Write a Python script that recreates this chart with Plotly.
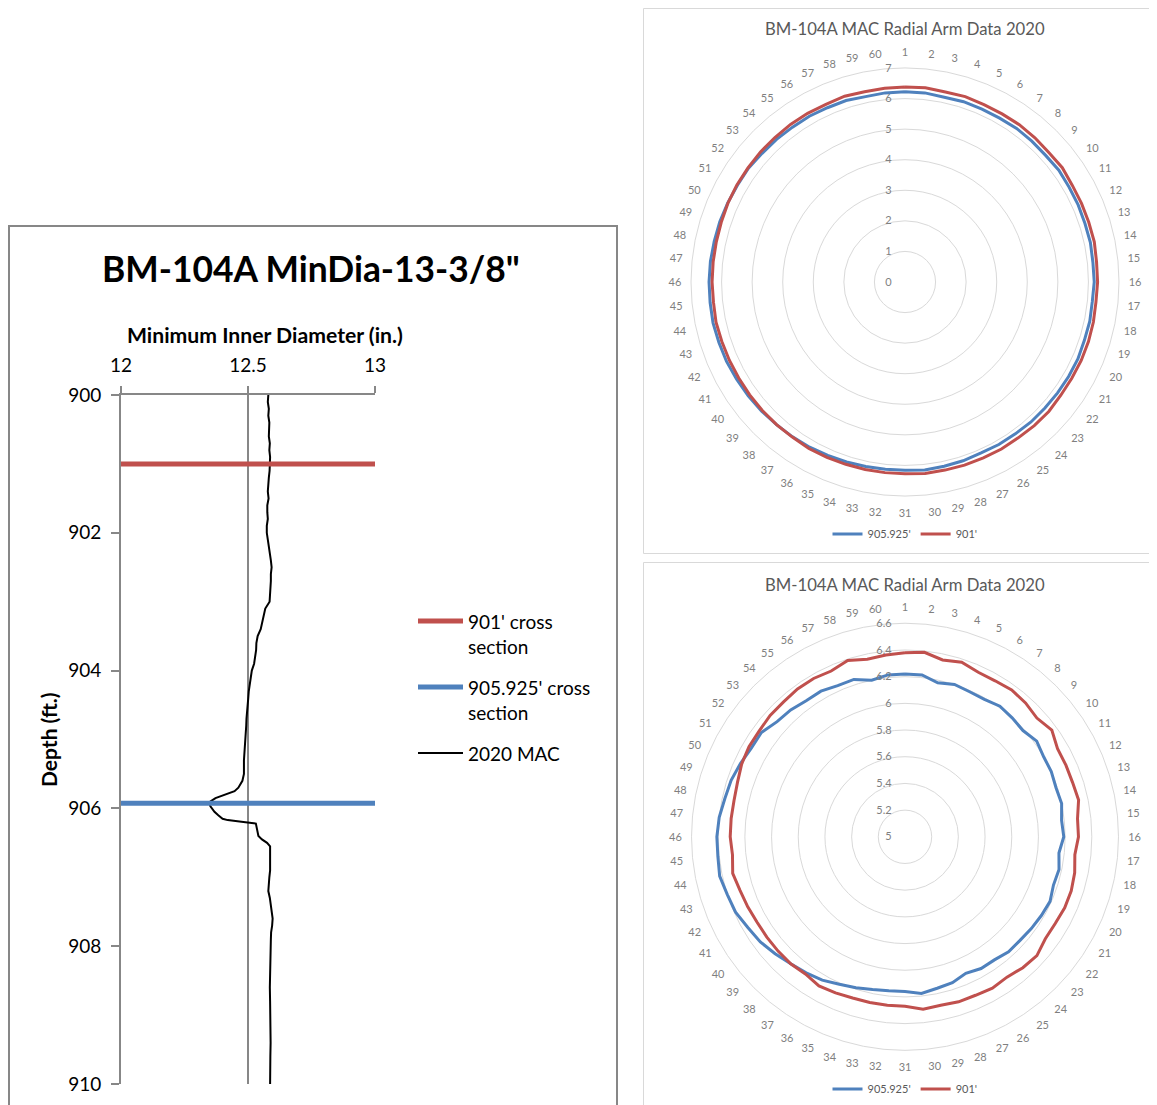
import plotly.graph_objects as go

W, H = 1157, 1105
FONT = "Lato"
OFF = 8  # page body margin: the figure starts 8px in from the window edge

# ---------------- data: left chart (2020 MAC minimum ID log) ----------------
depth_ft = [900.0, 900.1, 900.2, 900.3, 900.4, 900.5, 900.6, 900.7, 900.8, 900.9,
            901.0, 901.1, 901.2, 901.3, 901.4, 901.5, 901.6, 901.7, 901.8, 901.9,
            902.0, 902.1, 902.2, 902.3, 902.4, 902.5, 902.6, 902.7, 902.8, 902.9,
            903.0, 903.1, 903.2, 903.3, 903.4, 903.5, 903.6, 903.7, 903.8, 903.9,
            904.0, 904.1, 904.2, 904.3, 904.4, 904.5, 904.6, 904.7, 904.8, 904.9,
            905.0, 905.1, 905.2, 905.3, 905.4, 905.5, 905.6, 905.65, 905.7, 905.75,
            905.8, 905.85, 905.9, 905.93, 905.97, 906.0, 906.05, 906.1, 906.15, 906.17,
            906.18, 906.2, 906.22, 906.3, 906.4, 906.45, 906.5, 906.55, 906.7, 906.8,
            906.9, 907.0, 907.1, 907.2, 907.3, 907.4, 907.5, 907.6, 907.7, 907.8,
            907.9, 908.0, 908.2, 908.4, 908.5, 908.6, 908.8, 909.0, 909.2, 909.4,
            909.6, 909.8, 910.0]
min_id_in = [12.580, 12.578, 12.582, 12.580, 12.584, 12.584, 12.582, 12.586, 12.584, 12.587,
             12.587, 12.585, 12.582, 12.580, 12.578, 12.581, 12.576, 12.576, 12.578, 12.574,
             12.574, 12.578, 12.583, 12.587, 12.590, 12.593, 12.590, 12.590, 12.588, 12.588,
             12.585, 12.568, 12.562, 12.556, 12.550, 12.538, 12.533, 12.532, 12.528, 12.524,
             12.515, 12.510, 12.506, 12.503, 12.501, 12.498, 12.495, 12.494, 12.493, 12.491,
             12.491, 12.488, 12.486, 12.484, 12.484, 12.484, 12.478, 12.470, 12.462, 12.447,
             12.410, 12.372, 12.352, 12.348, 12.352, 12.357, 12.368, 12.383, 12.400, 12.420,
             12.455, 12.490, 12.531, 12.535, 12.541, 12.555, 12.575, 12.587, 12.588, 12.586,
             12.587, 12.584, 12.582, 12.580, 12.586, 12.590, 12.593, 12.597, 12.595, 12.591,
             12.590, 12.589, 12.587, 12.585, 12.584, 12.586, 12.587, 12.588, 12.589, 12.589,
             12.588, 12.587, 12.587]
section_depths = [901.0, 905.925]
section_names = ["901' cross<br>section", "905.925' cross<br>section"]
log_name = "2020 MAC"
x_ticks = [12, 12.5, 13]
x_ticktext = ["12", "12.5", "13"]
y_ticks = [900, 902, 904, 906, 908, 910]

# ---------------- data: radial arm readings (60 arms) ----------------
arm_labels = [str(i) for i in range(1, 61)]
r_905925 = [6.22, 6.22, 6.18, 6.20, 6.19, 6.19, 6.21, 6.20, 6.19, 6.22,
            6.20, 6.20, 6.19, 6.20, 6.18, 6.19, 6.16, 6.18, 6.17, 6.19,
            6.18, 6.17, 6.16, 6.16, 6.14, 6.14, 6.12, 6.15, 6.16, 6.18,
            6.16, 6.16, 6.17, 6.19, 6.21, 6.24, 6.26, 6.28, 6.31, 6.34,
            6.36, 6.39, 6.40, 6.42, 6.41, 6.41, 6.40, 6.38, 6.37, 6.35,
            6.33, 6.33, 6.29, 6.28, 6.26, 6.26, 6.24, 6.24, 6.20, 6.22]
r_901 = [6.38, 6.39, 6.355, 6.375, 6.35, 6.35, 6.36, 6.35, 6.33, 6.36,
         6.32, 6.32, 6.32, 6.33, 6.30, 6.30, 6.28, 6.30, 6.31, 6.31,
         6.30, 6.30, 6.33, 6.32, 6.30, 6.31, 6.30, 6.30, 6.29, 6.30,
         6.27, 6.27, 6.27, 6.27, 6.28, 6.29, 6.27, 6.28, 6.28, 6.28,
         6.28, 6.29, 6.30, 6.32, 6.30, 6.31, 6.31, 6.31, 6.32, 6.34,
         6.35, 6.35, 6.36, 6.36, 6.37, 6.37, 6.36, 6.39, 6.36, 6.37]
polar_names = ["905.925'", "901'"]
polar_title = "BM-104A MAC Radial Arm Data 2020"
r_ticks_full = [0, 1, 2, 3, 4, 5, 6, 7]
r_ticks_zoom = [5, 5.2, 5.4, 5.6, 5.8, 6, 6.2, 6.4, 6.6]
r_ticktext_zoom = ["5", "5.2", "5.4", "5.6", "5.8", "6", "6.2", "6.4", "6.6"]

# ---------------- styles ----------------
RED = "#C0504D"
BLUE = "#4F81BD"
AXGRAY = "#878787"
LIGHT = "#D9D9D9"
TXTGRAY = "#595959"
LBLGRAY = "#7F7F7F"


def px(x):
    return (x - OFF) / W


def py(y):
    return 1 - (y - OFF) / H


fig = go.Figure()

# left log chart
fig.add_trace(go.Scatter(x=min_id_in, y=depth_ft, mode="lines",
                         line=dict(color="black", width=2), name=log_name,
                         showlegend=False, xaxis="x", yaxis="y"))
for d, nm, col in zip(section_depths, section_names, [RED, BLUE]):
    fig.add_trace(go.Scatter(x=[x_ticks[0], x_ticks[-1]], y=[d, d], mode="lines",
                             line=dict(color=col, width=5), name=nm,
                             showlegend=False, xaxis="x", yaxis="y"))

# polar charts (same data, two radial ranges)
theta_closed = arm_labels + [arm_labels[0]]
for sub, leg in [("polar", "legend"), ("polar2", "legend2")]:
    for vals, nm, col in zip([r_905925, r_901], polar_names, [BLUE, RED]):
        fig.add_trace(go.Scatterpolar(r=vals + [vals[0]], theta=theta_closed,
                                      mode="lines", line=dict(color=col, width=3),
                                      name=nm, subplot=sub, legend=leg))

angular = dict(type="category", categoryarray=arm_labels, direction="clockwise",
               rotation=90, showgrid=False, showline=True, linecolor=LIGHT,
               linewidth=1, ticks="outside", ticklen=7, tickcolor="rgba(0,0,0,0)",
               tickfont=dict(family=FONT, size=11, color=LBLGRAY))


def radial(rng, vals, text=None):
    d = dict(range=rng, tickvals=vals, angle=90, tickangle=90,
             side="counterclockwise", showline=False, ticks="outside", ticklen=9,
             tickcolor="rgba(0,0,0,0)",
             gridcolor=LIGHT, tickfont=dict(family=FONT, size=11, color=LBLGRAY))
    if text is not None:
        d["ticktext"] = text
    return d


fig.update_layout(
    width=W, height=H,
    margin=dict(l=0, r=0, t=0, b=0, pad=0, autoexpand=False),
    paper_bgcolor="white", plot_bgcolor="white",
    font=dict(family=FONT, color="black"),
    xaxis=dict(domain=[px(121), px(375)], range=[12, 13], side="top", anchor="y",
               tickvals=x_ticks, ticktext=x_ticktext, showgrid=True, gridcolor=AXGRAY,
               gridwidth=2, showline=True, linecolor=AXGRAY, linewidth=2,
               ticks="outside", ticklen=7, tickwidth=2, tickcolor=AXGRAY,
               tickfont=dict(family=FONT, size=19, color="black"), zeroline=False,
               ticklabelstandoff=6, automargin=False),
    yaxis=dict(domain=[py(1084), py(395)], range=[910, 900], anchor="x",
               tickvals=y_ticks, showgrid=False, showline=True, linecolor=AXGRAY,
               linewidth=2, ticks="outside", ticklen=8, tickwidth=2, tickcolor=AXGRAY,
               tickfont=dict(family=FONT, size=19, color="black"), zeroline=False,
               ticklabelstandoff=6, automargin=False),
    polar=dict(domain=dict(x=[px(691), px(1119)], y=[py(496), py(68)]),
               bgcolor="white", angularaxis=angular,
               radialaxis=radial([0, 7], r_ticks_full)),
    polar2=dict(domain=dict(x=[px(691.5), px(1118.5)], y=[py(1050.3), py(623.3)]),
                bgcolor="white", angularaxis=angular,
                radialaxis=radial([5, 6.6], r_ticks_zoom, r_ticktext_zoom)),
    legend=dict(orientation="h", x=px(905), xanchor="center", y=py(534), yanchor="middle",
                font=dict(family=FONT, size=11, color=TXTGRAY), bgcolor="rgba(0,0,0,0)"),
    legend2=dict(orientation="h", x=px(905), xanchor="center", y=py(1089), yanchor="middle",
                 font=dict(family=FONT, size=11, color=TXTGRAY), bgcolor="rgba(0,0,0,0)"),
)

shapes = [
    dict(type="rect", xref="paper", yref="paper", x0=px(9), x1=px(617), y0=py(1120), y1=py(226),
         line=dict(color=AXGRAY, width=2), fillcolor="rgba(0,0,0,0)", layer="below"),
    dict(type="rect", xref="paper", yref="paper", x0=px(643.5), x1=px(1170), y0=py(553.5), y1=py(8.5),
         line=dict(color=LIGHT, width=1), fillcolor="rgba(0,0,0,0)", layer="below"),
    dict(type="rect", xref="paper", yref="paper", x0=px(643.5), x1=px(1170), y0=py(1120), y1=py(562.5),
         line=dict(color=LIGHT, width=1), fillcolor="rgba(0,0,0,0)", layer="below"),
]
# manual legend for the log chart
leg_y = [621, 687, 753]
leg_cols = [RED, BLUE, "black"]
leg_w = [5, 5, 2]
leg_txt = section_names + [log_name]
annotations = []
for yy, c, w, t in zip(leg_y, leg_cols, leg_w, leg_txt):
    shapes.append(dict(type="line", xref="paper", yref="paper", x0=px(418), x1=px(463),
                       y0=py(yy), y1=py(yy), line=dict(color=c, width=w)))
    annotations.append(dict(xref="paper", yref="paper", x=px(466), y=py(yy - 13),
                            xanchor="left", yanchor="top", align="left", showarrow=False,
                            text=t, font=dict(family=FONT, size=19, color="black")))

annotations += [
    dict(xref="paper", yref="paper", x=px(311), y=py(268), xanchor="center", yanchor="middle",
         showarrow=False, text="<b>BM-104A MinDia-13-3/8\"</b>",
         font=dict(family=FONT, size=35.4, color="black")),
    dict(xref="paper", yref="paper", x=px(264.5), y=py(335), xanchor="center", yanchor="middle",
         showarrow=False, text="<b>Minimum Inner Diameter (in.)</b>",
         font=dict(family=FONT, size=21.2, color="black")),
    dict(xref="paper", yref="paper", x=px(48), y=py(740), xanchor="center", yanchor="middle",
         showarrow=False, text="<b>Depth (ft.)</b>", textangle=-90,
         font=dict(family=FONT, size=21, color="black")),
    dict(xref="paper", yref="paper", x=px(905), y=py(29), xanchor="center", yanchor="middle",
         showarrow=False, text=polar_title, font=dict(family=FONT, size=16.7, color=TXTGRAY)),
    dict(xref="paper", yref="paper", x=px(905), y=py(585), xanchor="center", yanchor="middle",
         showarrow=False, text=polar_title, font=dict(family=FONT, size=16.7, color=TXTGRAY)),
]
fig.update_layout(shapes=shapes, annotations=annotations)

fig.write_html("out.html")
